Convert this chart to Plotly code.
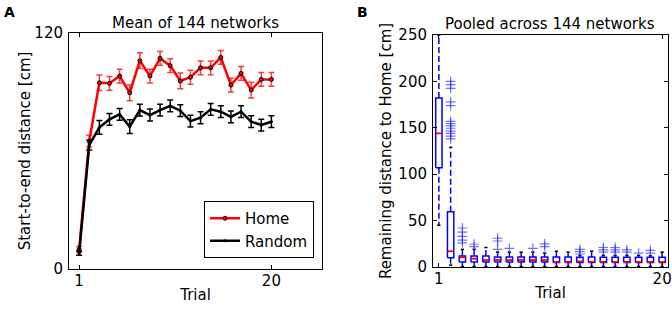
import plotly.graph_objects as go

# ---------------- Data ----------------
trials = list(range(1, 21))

home_mean = [10, 65, 94.7, 94.4, 98.1, 89.6, 105.9, 98.1, 107.1, 103.4,
             95.6, 97.5, 102.3, 102.3, 107.6, 93.5, 99.5, 91.0, 96.4, 96.4]
home_err = [1.5, 3, 4, 3.5, 3.5, 4, 4, 3.5, 3.5, 3.5,
            4, 3.5, 3.5, 3.5, 3.5, 3.5, 3.5, 4, 3.5, 3.5]
random_mean = [8, 63, 72, 76.1, 78.6, 72.4, 80.8, 78.3, 80.8, 82.9,
               80.5, 75.2, 76.9, 81.2, 80.0, 77.4, 80.0, 74.9, 73.2, 74.9]
random_err = [1, 2.5, 3.5, 3, 3, 3.5, 3, 3, 3, 3,
              3, 3, 3, 3, 3, 3, 3, 3, 3, 3]

box_q1 = [107, 10, 5.4, 5.4, 5.4, 5.4, 5.4, 5.4, 5.4, 5.4,
          4.8, 4.8, 4.8, 4.8, 4.8, 4.8, 4.8, 4.8, 4.8, 4.8]
box_med = [144, 17, 10.5, 9, 7.5, 7.5, 7.5, 7.5, 7.5, 7.5,
           5.5, 5.5, 6, 5.5, 5.5, 5.5, 5.5, 5.5, 5.5, 5.5]
box_q3 = [182, 59.5, 11.8, 11.8, 11.8, 10.8, 10.8, 10.8, 10.8, 10.8,
          10.8, 10.8, 10.5, 10.8, 10.5, 10.5, 10.5, 10.5, 10.5, 10.5]
box_lo = [45, 2, 0.5, 0.5, 0.5, 0.5, 0.5, 0.5, 0.5, 0.5,
          0.5, 0.5, 0.5, 0.5, 0.5, 0.5, 0.5, 0.5, 0.5, 0.5]
box_hi = [250, 129, 19, 19, 21, 16, 16, 16, 16, 15,
          17, 16, 12.5, 17, 12.5, 12.5, 12.5, 12.5, 12, 16]
outliers = [
    [],
    [200, 196.5, 192.5, 178, 174, 157, 154.5, 152, 149.5, 146.5, 144, 141, 138],
    [42, 37.5, 33, 29, 26],
    [24.5, 22],
    [],
    [31, 28, 19],
    [20],
    [],
    [20],
    [25, 22],
    [],
    [],
    [19, 16.5, 14],
    [],
    [21, 18.5, 16],
    [21, 18.5, 16],
    [18.5, 16],
    [15],
    [18, 15],
    [],
]

# ---------------- Figure ----------------
W, H = 672, 311
FONT = "DejaVu Sans"
fig = go.Figure()

# Panel A
fig.add_trace(go.Scatter(
    x=trials, y=home_mean, mode="lines+markers", name="Home",
    line=dict(color="red", width=2.5),
    marker=dict(size=4, color="red", line=dict(color="black", width=1)),
    error_y=dict(type="data", array=home_err, color="rgba(235,30,30,0.85)",
                 thickness=1.5, width=3),
    xaxis="x", yaxis="y"))
fig.add_trace(go.Scatter(
    x=trials, y=random_mean, mode="lines+markers", name="Random",
    line=dict(color="black", width=2.5),
    marker=dict(size=3, color="black"),
    error_y=dict(type="data", array=random_err, color="black",
                 thickness=1.5, width=3),
    xaxis="x", yaxis="y"))

# Panel B: matplotlib-style box plots
hw = 0.27
cw = 0.14
wx, wy, cx, cy, bx, by, mx, my, ox, oy = [], [], [], [], [], [], [], [], [], []
for t, q1, md, q3, lo, hi, outs in zip(trials, box_q1, box_med, box_q3,
                                       box_lo, box_hi, outliers):
    wx += [t, t, None, t, t, None]
    wy += [q1, lo, None, q3, hi, None]
    cx += [t - cw, t + cw, None, t - cw, t + cw, None]
    cy += [lo, lo, None, hi, hi, None]
    bx += [t - hw, t + hw, t + hw, t - hw, t - hw, None]
    by += [q1, q1, q3, q3, q1, None]
    mx += [t - hw, t + hw, None]
    my += [md, md, None]
    ox += [t] * len(outs)
    oy += outs

fig.add_trace(go.Scatter(x=wx, y=wy, mode="lines", showlegend=False,
                         line=dict(color="blue", width=1.5, dash="6px,3px"),
                         xaxis="x2", yaxis="y2", hoverinfo="skip"))
fig.add_trace(go.Scatter(x=cx, y=cy, mode="lines", showlegend=False,
                         line=dict(color="black", width=1.5),
                         xaxis="x2", yaxis="y2", hoverinfo="skip"))
fig.add_trace(go.Scatter(x=bx, y=by, mode="lines", showlegend=False,
                         line=dict(color="blue", width=1.5),
                         xaxis="x2", yaxis="y2", hoverinfo="skip"))
fig.add_trace(go.Scatter(x=mx, y=my, mode="lines", showlegend=False,
                         line=dict(color="red", width=1.8),
                         xaxis="x2", yaxis="y2", hoverinfo="skip"))
fig.add_trace(go.Scatter(x=ox, y=oy, mode="markers", showlegend=False,
                         marker=dict(symbol="cross-thin", size=7,
                                     line=dict(color="rgba(40,40,255,0.65)", width=1.2)),
                         xaxis="x2", yaxis="y2"))

axis_common = dict(showline=True, linecolor="black", linewidth=1, mirror="ticks",
                   ticks="inside", ticklen=4, tickcolor="black", showgrid=False,
                   zeroline=False, automargin=False,
                   tickfont=dict(family=FONT, size=15, color="black"))

fig.update_layout(
    template="none",
    width=W, height=H,
    margin=dict(l=0, r=0, t=0, b=0, autoexpand=False),
    paper_bgcolor="white", plot_bgcolor="white",
    font=dict(family=FONT, size=15, color="black"),
    xaxis=dict(domain=[69 / W, 322 / W], range=[0, 25], tickvals=[1, 20],
               title=dict(text="Trial", standoff=0, font=dict(size=15)),
               ticklabelstandoff=-2, anchor="y", **axis_common),
    yaxis=dict(domain=[1 - 269 / H, 1 - 33 / H], range=[0, 120], tickvals=[0, 120],
               title=dict(text="Start-to-end distance [cm]", standoff=0, font=dict(size=15)),
               ticklabelstandoff=2, anchor="x", **axis_common),
    xaxis2=dict(domain=[433 / W, 668 / W], range=[0.5, 20.5], tickvals=[1, 20],
                title=dict(text="Trial", standoff=0, font=dict(size=15)),
                ticklabelstandoff=-2, anchor="y2", **axis_common),
    yaxis2=dict(domain=[1 - 267 / H, 1 - 35 / H], range=[0, 250],
                tickvals=[0, 50, 100, 150, 200, 250],
                title=dict(text="Remaining distance to Home [cm]", standoff=3, font=dict(size=15)),
                ticklabelstandoff=2, anchor="x2", **axis_common),
    legend=dict(x=314 / W, xanchor="right", y=1 - 258 / H, yanchor="bottom",
                bordercolor="black", borderwidth=1, bgcolor="white",
                font=dict(family=FONT, size=15, color="black"),
                tracegroupgap=0, itemwidth=30),
    annotations=[
        dict(text="Mean of 144 networks", x=(69 + 322) / 2 / W, y=1 - 23 / H,
             xref="paper", yref="paper", showarrow=False, xanchor="center",
             yanchor="middle", font=dict(family=FONT, size=15)),
        dict(text="Pooled across 144 networks", x=550 / W, y=1 - 24 / H,
             xref="paper", yref="paper", showarrow=False, xanchor="center",
             yanchor="middle", font=dict(family=FONT, size=15)),
        dict(text="<b>A</b>", x=2 / W, y=1 - 12 / H, xref="paper", yref="paper",
             showarrow=False, xanchor="left", yanchor="middle",
             font=dict(family=FONT, size=14)),
        dict(text="<b>B</b>", x=355 / W, y=1 - 12 / H, xref="paper", yref="paper",
             showarrow=False, xanchor="left", yanchor="middle",
             font=dict(family=FONT, size=14)),
    ],
)

fig.write_html("out.html", config={"displayModeBar": False},
               post_script="document.body.style.margin='0px';"
                           "document.body.style.overflow='hidden';")
